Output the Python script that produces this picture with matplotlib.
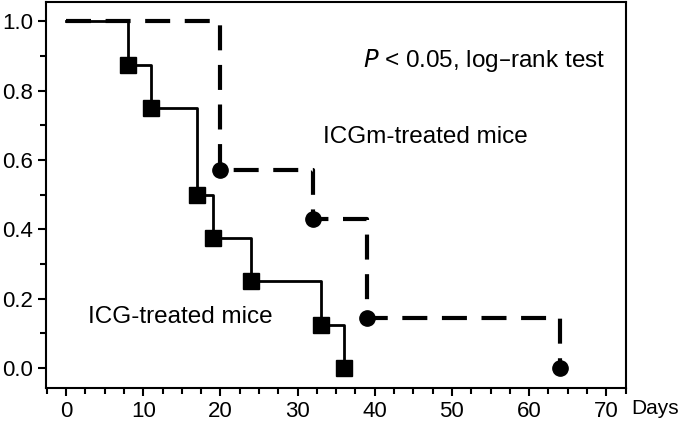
import matplotlib.pyplot as plt
from matplotlib.ticker import MultipleLocator

plt.rcParams['font.family'] = ['Liberation Sans', 'DejaVu Sans']

# ICG-treated mice (solid line, squares)
icg_days = [0, 8, 11, 17, 19, 24, 33, 36]
icg_surv = [1.0, 0.875, 0.75, 0.5, 0.375, 0.25, 0.125, 0.0]

# ICGm-treated mice (dashed line, circles)
icgm_days = [0, 20, 32, 39, 64]
icgm_surv = [1.0, 0.571, 0.429, 0.143, 0.0]

fig = plt.figure(figsize=(6.82, 4.25), dpi=100)
ax = fig.add_axes([0.0674, 0.087, 0.851, 0.908])

ax.step(icg_days, icg_surv, where='post', color='black', lw=2)
ax.plot(icg_days[1:], icg_surv[1:], 's', color='black', ms=11)

ax.step(icgm_days, icgm_surv, where='post', color='black', lw=3,
        linestyle=(0, (6, 3.5)))
ax.plot(icgm_days[1:], icgm_surv[1:], 'o', color='black', ms=11)

ax.set_xlim(-2.6, 72.6)
ax.set_ylim(-0.058, 1.055)
ax.xaxis.set_major_locator(MultipleLocator(10))
ax.xaxis.set_minor_locator(MultipleLocator(2.5))
ax.yaxis.set_major_locator(MultipleLocator(0.2))
ax.yaxis.set_minor_locator(MultipleLocator(0.1))
ax.yaxis.set_major_formatter(plt.FuncFormatter(lambda v, p: f'{v:.1f}'))
ax.tick_params(which='major', direction='out', length=6, width=1.5, labelsize=16)
ax.tick_params(which='minor', direction='out', length=4, width=1.5)
for s in ax.spines.values():
    s.set_linewidth(1.5)

ax.text(38.5, 0.888, r'$\it{P}$ < 0.05, log–rank test', fontsize=17.5, va='center')
ax.text(33.3, 0.666, 'ICGm-treated mice', fontsize=17.5, va='center')
ax.text(2.85, 0.147, 'ICG-treated mice', fontsize=17.5, va='center')
fig.text(0.926, 0.04, 'Days', fontsize=15, va='center')

plt.savefig('out.png', dpi=100)
